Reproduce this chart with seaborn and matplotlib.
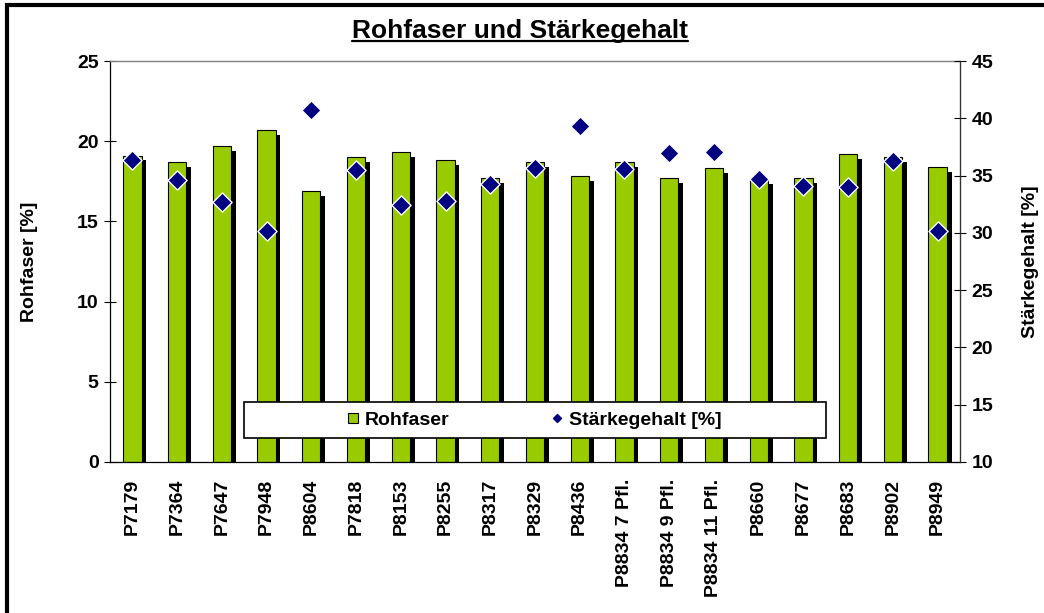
import numpy as np
import pandas as pd
import matplotlib
matplotlib.use("Agg")
import matplotlib.pyplot as plt
import matplotlib.patheffects as pe
from matplotlib.lines import Line2D
from matplotlib.patches import Rectangle
import seaborn as sns

# Daten
sorten = ['P7179', 'P7364', 'P7647', 'P7948', 'P8604', 'P7818', 'P8153', 'P8255',
          'P8317', 'P8329', 'P8436', 'P8834 7 Pfl.', 'P8834 9 Pfl.', 'P8834 11 Pfl.',
          'P8660', 'P8677', 'P8683', 'P8902', 'P8949']
rohfaser = [19.1, 18.7, 19.7, 20.7, 16.9, 19.0, 19.3, 18.8, 17.7, 18.7,
            17.8, 18.7, 17.7, 18.3, 17.6, 17.7, 19.2, 19.0, 18.4]
staerke = [36.4, 34.6, 32.7, 30.2, 40.7, 35.5, 32.4, 32.8, 34.3, 35.7,
           39.3, 35.6, 37.0, 37.1, 34.7, 34.1, 34.0, 36.3, 30.2]

df = pd.DataFrame({'Sorte': sorten, 'Rohfaser': rohfaser, 'Staerke': staerke})

sns.set_style("white")
plt.rcParams['font.family'] = ['Liberation Sans', 'DejaVu Sans']
plt.rcParams['font.weight'] = 'bold'
plt.rcParams['font.size'] = 14
for k in ['text.color', 'axes.labelcolor', 'xtick.color', 'ytick.color']:
    plt.rcParams[k] = 'black'

W, H = 1044, 613
fig = plt.figure(figsize=(W / 100, H / 100), dpi=100)
ax = fig.add_axes([110 / W, 1 - 462 / H, 850 / W, 401 / H])

# Balken mit Schatten
sns.barplot(data=df, x='Sorte', y='Rohfaser', ax=ax, color='#99CC00', saturation=1,
            width=0.41, edgecolor='black', linewidth=0.8, zorder=2)
for p in ax.patches:
    p.set_path_effects([pe.SimplePatchShadow(offset=(3.4, -3.4), shadow_rgbFace='black', alpha=1),
                        pe.Normal()])

ax.set_ylim(0, 25)
ax.set_xlim(-0.5, len(sorten) - 0.5)
ax.set_yticks(np.arange(0, 26, 5))
ax.set_xticks(np.arange(len(sorten)))
ax.set_xticklabels(sorten, rotation=90, fontweight='bold')
ax.set_xticks(np.arange(-0.5, len(sorten), 1), minor=True)
ax.tick_params(axis='x', which='major', length=0, pad=12)
ax.tick_params(axis='x', which='minor', length=8.5, direction='inout', width=0.8, color='black')
ax.tick_params(axis='y', length=8.5, direction='inout', width=0.8, color='black', pad=4)
ax.set_xlabel('')
ax.set_ylabel('Rohfaser [%]', fontweight='bold')
ax.yaxis.set_label_coords(-0.085, 0.5)
for s in ['left', 'bottom']:
    ax.spines[s].set_color('black')
    ax.spines[s].set_linewidth(0.9)
ax.spines['top'].set_color('#808080')
ax.spines['top'].set_linewidth(1.0)

# Zweite Achse: Stärkegehalt
ax2 = ax.twinx()
sns.scatterplot(data=df, x='Sorte', y='Staerke', ax=ax2, marker='D', color='#000080',
                edgecolor='white', linewidth=1, s=95, zorder=3)
ax2.set_ylim(10, 45)
ax2.set_yticks(np.arange(10, 46, 5))
ax2.tick_params(axis='y', length=8.5, direction='inout', width=0.8, color='black', pad=4)
ax2.set_ylabel('Stärkegehalt [%]', fontweight='bold')
ax2.yaxis.set_label_coords(1.073, 0.5)
ax2.spines['right'].set_color('#333333')
ax2.spines['right'].set_linewidth(0.9)
for s in ['left', 'top', 'bottom']:
    ax2.spines[s].set_visible(False)
for lab in ax.get_yticklabels() + ax2.get_yticklabels():
    lab.set_fontweight('bold')

# Legende mit eigenem Rahmen
rect = Rectangle((244 / W, 1 - 438 / H), 582 / W, 36 / H, transform=fig.transFigure,
                 facecolor='white', edgecolor='black', linewidth=1.2, zorder=4)
fig.add_artist(rect)
handles = [Line2D([], [], marker='s', linestyle='none', markersize=7.5,
                  markerfacecolor='#99CC00', markeredgecolor='black', markeredgewidth=0.8),
           Line2D([], [], marker='D', linestyle='none', markersize=4,
                  markerfacecolor='#000080', markeredgecolor='#000080')]
leg = fig.legend(handles, ['Rohfaser', 'Stärkegehalt [%]'], ncol=2, frameon=False,
                 loc='center', bbox_to_anchor=(534 / W, 1 - 420 / H),
                 handlelength=0.7, handletextpad=0.25, columnspacing=5.2,
                 prop={'weight': 'bold', 'size': 14})
leg.set_zorder(6)

# Titel mit Unterstreichung
title = fig.text(520 / W, 1 - 38 / H, 'Rohfaser und Stärkegehalt', ha='center', va='baseline',
                 fontsize=19, fontweight='bold')
fig.canvas.draw()
bb = title.get_window_extent()
fig.add_artist(Line2D([bb.x0 / W, bb.x1 / W], [1 - 41 / H, 1 - 41 / H],
                      transform=fig.transFigure, color='black', linewidth=1.6))

# Rahmen (links und oben)
fig.add_artist(Line2D([7 / W, 7 / W, 1.0], [0.0, 1 - 5 / H, 1 - 5 / H],
                      transform=fig.transFigure, color='black', linewidth=3,
                      solid_joinstyle='miter'))

fig.savefig('out.png', dpi=100)
plt.close(fig)
